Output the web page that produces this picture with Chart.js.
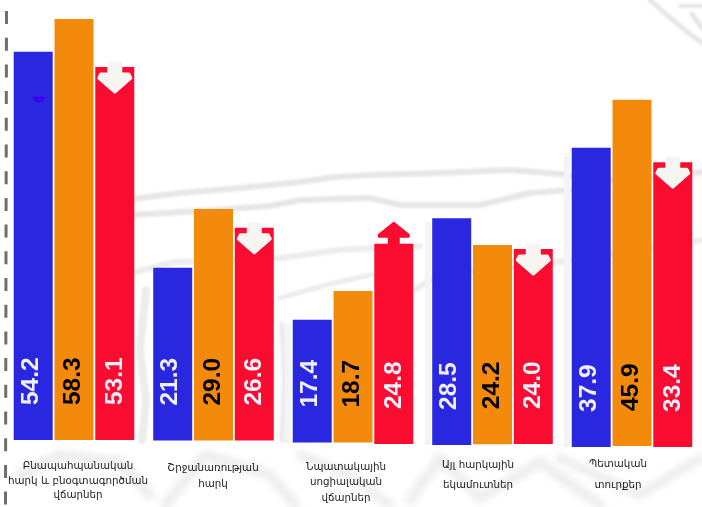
<!DOCTYPE html>
<html><head><meta charset="utf-8">
<style>html,body{margin:0;padding:0;background:#fff}canvas{display:block}</style>
<script src="https://cdn.jsdelivr.net/npm/chart.js@4"></script>
</head><body><canvas id="c" width="702" height="507"></canvas>
<script>
// Printed values (as lettered inside the bars)
const printedBlue   = [54.2, 21.3, 17.4, 28.5, 37.9];
const printedOrange = [58.3, 29.0, 18.7, 24.2, 45.9];
const printedRed    = [53.1, 26.6, 24.8, 24.0, 33.4];
// The reference's bars are not drawn to scale with their printed numbers and stand on a
// slightly tilted baseline, so the drawn ends are read from the picture separately.
const blueTop   = [49.4, 22.4, 15.9, 28.6, 37.4];
const orangeTop = [53.5, 29.75, 19.5, 25.25, 43.4];
const redTop    = [47.5, 27.4, 25.4, 24.75, 35.6];
const blueBase   = [0.87, 0.8, 0.55, 0.25, 0];
const orangeBase = [0.87, 0.8, 0.55, 0.35, 0.12];
const redBase    = [0.87, 0.8, 0.37, 0.37, 0];
const redArrows  = ['down', 'down', 'up', 'down', 'down'];
const categories = [
  ['Բնապահպանական', 'հարկ և բնօգտագործման', 'վճարներ'],
  ['Շրջանառության', 'հարկ'],
  ['Նպատակային', 'սոցիալական', 'վճարներ'],
  ['Այլ հարկային', 'եկամուտներ'],
  ['Պետական', 'տուրքեր']
];
const span = (lo, hi) => hi.map((v, i) => [lo[i], v]);

// layout of the hand-placed captions
const capX = [78, 213, 346, 478, 618];
const capY = [[466, 481, 495], [468, 484], [467, 482, 498], [465, 485], [464, 485]];
const numShift = [-3, -1.5, -1];

function wob(ctx, pts, w) {
  ctx.lineWidth = w; ctx.beginPath();
  pts.forEach((p, i) => i ? ctx.lineTo(p[0], p[1]) : ctx.moveTo(p[0], p[1]));
  ctx.stroke();
}
const backdrop = {
  id: 'backdrop',
  beforeDatasetsDraw(ch) {
    const c = ch.ctx; c.save();
    c.filter = 'blur(1.2px)';
    c.strokeStyle = '#e6e6e6'; c.lineJoin = 'round'; c.lineCap = 'round';
    wob(c, [[132,199],[180,193],[240,188],[300,182],[335,177],[370,175],[440,173],[510,170],[560,174],[600,181],[660,178],[702,172]], 6);
    wob(c, [[132,215],[200,211],[270,206],[300,200],[370,198],[400,205],[480,205],[530,193],[570,190]], 6);
    wob(c, [[650,0],[668,16],[685,30],[702,43]], 5);
    wob(c, [[680,6],[702,6]], 4);
    wob(c, [[692,14],[702,28]], 5);
    c.strokeStyle = '#ececec';
    wob(c, [[135,272],[175,262],[280,258],[340,250],[420,246]], 6);
    wob(c, [[414,290],[440,275],[560,262],[702,240]], 6);
    wob(c, [[280,298],[330,284],[375,274]], 5);
    wob(c, [[142,440],[146,400],[140,350],[146,290]], 8);
    wob(c, [[282,440],[285,380],[282,325]], 6);
    // lower mottling behind the captions
    c.filter = 'blur(3px)';
    c.strokeStyle = '#eeeeee';
    wob(c, [[20,475],[60,455],[120,462],[150,495]], 11);
    wob(c, [[165,505],[205,455],[270,475],[295,505]], 11);
    wob(c, [[300,455],[350,475],[390,505]], 10);
    wob(c, [[410,500],[440,458],[480,498],[540,462],[600,505]], 11);
    wob(c, [[560,458],[640,495],[700,458]], 10);
    c.filter = 'none';
    c.strokeStyle = '#f5f4f4'; c.lineCap = 'butt';
    wob(c, [[288,324],[288,443]], 6);
    wob(c, [[428,222],[428,445]], 6);
    wob(c, [[567,153],[567,447]], 6);
    c.restore();
  }
};
const overlay = {
  id: 'overlay',
  afterDatasetsDraw(ch) {
    const c = ch.ctx; c.save();
    // dashed rule at the left
    c.strokeStyle = '#6e6e6e'; c.lineWidth = 3; c.setLineDash([13, 13.7]);
    c.beginPath(); c.moveTo(6.5, 11); c.lineTo(5.5, 507); c.stroke(); c.setLineDash([]);
    // rotated numbers
    const printed = [printedBlue, printedOrange, printedRed];
    printed.forEach((vals, d) => ch.getDatasetMeta(d).data.forEach((el, i) => {
      c.save();
      c.translate(el.x + numShift[d], el.base - 35);
      c.rotate(-Math.PI / 2);
      c.font = 'bold 24.5px "Liberation Sans"';
      c.textAlign = 'left'; c.textBaseline = 'middle';
      c.fillStyle = d === 1 ? '#000' : '#f0f0fb';
      c.fillText(vals[i].toFixed(1), 0, 1);
      c.restore();
    }));
    // arrows on the red bars
    c.lineJoin = 'round';
    ch.getDatasetMeta(2).data.forEach((el, i) => {
      const x = el.x, t = el.y;
      c.beginPath();
      if (redArrows[i] === 'down') {
        c.fillStyle = c.strokeStyle = '#f6f5f1';
        c.moveTo(x - 6, t - 4); c.lineTo(x + 6, t - 4); c.lineTo(x + 6, t + 7);
        c.lineTo(x + 14, t + 7); c.lineTo(x + 16, t + 11); c.lineTo(x, t + 25);
        c.lineTo(x - 16, t + 11); c.lineTo(x - 14, t + 7); c.lineTo(x - 6, t + 7);
        c.lineWidth = 3;
      } else {
        c.fillStyle = c.strokeStyle = '#fa0c30';
        c.moveTo(x, t - 21); c.lineTo(x + 15, t - 9); c.lineTo(x + 15, t - 7);
        c.lineTo(x + 5, t - 7); c.lineTo(x + 5, t); c.lineTo(x - 5, t);
        c.lineTo(x - 5, t - 7); c.lineTo(x - 15, t - 7); c.lineTo(x - 15, t - 9);
        c.lineWidth = 2;
      }
      c.closePath(); c.fill(); c.stroke();
    });
    // small mark in the first blue bar
    const b = ch.getDatasetMeta(0).data[0];
    c.fillStyle = '#3a00f0';
    c.beginPath(); c.arc(b.x + 5.5, b.y + 45, 6, 0, Math.PI); c.closePath(); c.fill();
    // captions
    c.fillStyle = '#222'; c.font = '10.3px "DejaVu Sans"';
    c.textAlign = 'center'; c.textBaseline = 'middle';
    categories.forEach((lines, i) => lines.forEach((ln, j) => c.fillText(ln, capX[i], capY[i][j])));
    c.restore();
  }
};
new Chart(document.getElementById('c'), {
  type: 'bar',
  data: {
    labels: categories.map(l => l.join(' ')),
    datasets: [
      { data: span(blueBase, blueTop), backgroundColor: '#2a27e0' },
      { data: span(orangeBase, orangeTop), backgroundColor: '#f48a0c' },
      { data: span(redBase, redTop), backgroundColor: '#fa0c30' }
    ]
  },
  options: {
    responsive: false, animation: false,
    layout: { padding: { left: 4.25, right: 0.25, top: 7, bottom: 60 } },
    datasets: { bar: { categoryPercentage: 0.877, barPercentage: 0.956 } },
    plugins: { legend: { display: false }, tooltip: { enabled: false } },
    scales: {
      x: { display: false, grid: { display: false } },
      y: { display: false, min: 0, max: 55, grid: { display: false } }
    }
  },
  plugins: [backdrop, overlay]
});
</script></body></html>
